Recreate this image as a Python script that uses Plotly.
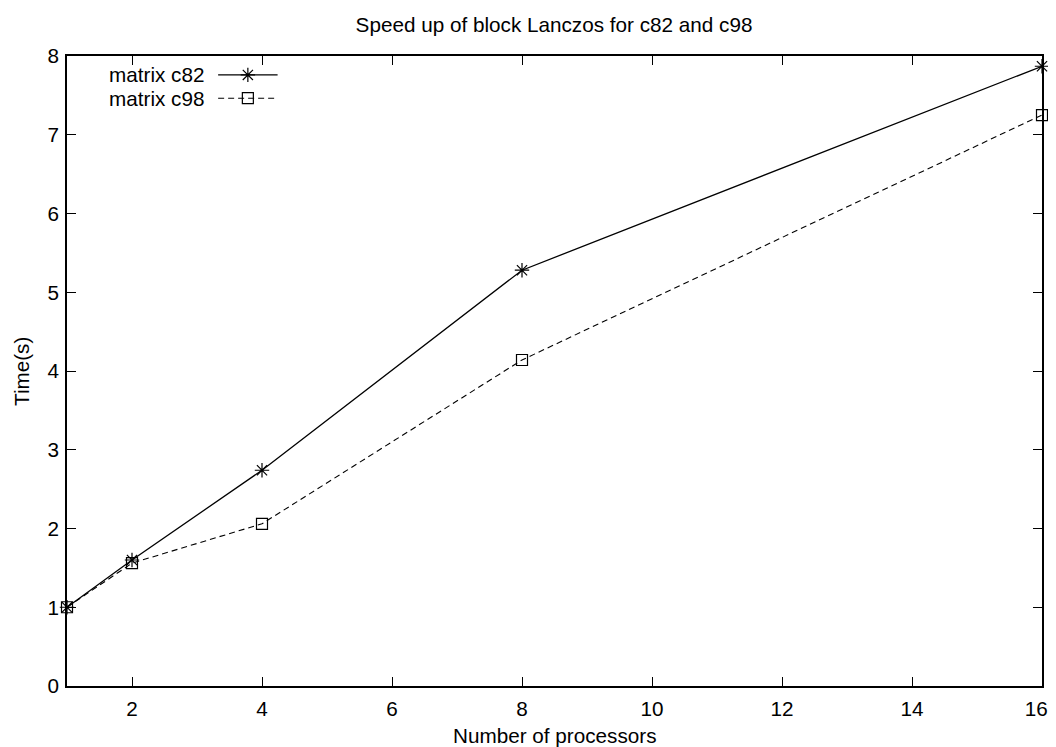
import plotly.graph_objects as go

processors = [1, 2, 4, 8, 16]
c82 = [1.0, 1.60, 2.74, 5.28, 7.87]
c98 = [1.0, 1.56, 2.06, 4.14, 7.25]
series_names = ["matrix c82", "matrix c98"]
x_ticks = [2, 4, 6, 8, 10, 12, 14, 16]
x_labels = ["2", "4", "6", "8", "10", "12", "14", "16\u00a0\u00a0"]
y_ticks = [0, 1, 2, 3, 4, 5, 6, 7, 8]

FONT = "Liberation Sans, Arial, sans-serif"
FS = 20.7

fig = go.Figure()
fig.add_trace(go.Scatter(
    x=processors, y=c82, mode="lines+markers", name=series_names[0],
    line=dict(color="black", width=1.3),
    marker=dict(symbol="asterisk-open", size=12, color="black", line=dict(width=1.2, color="black")),
    showlegend=False, cliponaxis=False))
fig.add_trace(go.Scatter(
    x=processors, y=c98, mode="lines+markers", name=series_names[1],
    line=dict(color="black", width=1.1, dash="6px,4px"),
    marker=dict(symbol="square-open", size=11, color="black", line=dict(width=1.2, color="#333")),
    showlegend=False, cliponaxis=False))

# manual gnuplot-style legend on an overlay axis in [0,1]
leg_y = [0.970, 0.933]
styles = [
    (dict(color="black", width=1.3), "asterisk-open", 12),
    (dict(color="black", width=1.1, dash="6px,4px"), "square-open", 11),
]
for name, yy, (ln, sym, sz) in zip(series_names, leg_y, styles):
    fig.add_trace(go.Scatter(x=[0.155, 0.216], y=[yy, yy], mode="lines", line=ln,
                             xaxis="x2", yaxis="y2", showlegend=False, hoverinfo="skip"))
    fig.add_trace(go.Scatter(x=[0.1855], y=[yy], mode="markers",
                             marker=dict(symbol=sym, size=sz, color="black",
                                         line=dict(width=1.2, color="black")),
                             xaxis="x2", yaxis="y2", showlegend=False, hoverinfo="skip"))
    fig.add_annotation(text=name, xref="paper", yref="paper", x=0.1425, y=yy,
                       xanchor="right", yanchor="middle", showarrow=False,
                       font=dict(family=FONT, size=FS, color="black"))

# axis titles as annotations (gnuplot placement)
fig.add_annotation(text="Number of processors", xref="paper", yref="paper",
                   x=0.5, y=-0.079, xanchor="center", yanchor="middle", showarrow=False,
                   font=dict(family=FONT, size=FS, color="black"))
fig.add_annotation(text="Time(s)", xref="paper", yref="paper", textangle=-90,
                   x=-0.0472, y=0.5, xanchor="center", yanchor="middle", showarrow=False,
                   font=dict(family=FONT, size=FS, color="black"))

axis_common = dict(showgrid=False, zeroline=False, showline=True, linecolor="black",
                   linewidth=1.6, mirror="ticks", ticks="inside", ticklen=9,
                   tickcolor="black", tickwidth=1.3, automargin=False,
                   ticklabeloverflow="allow",
                   tickfont=dict(family=FONT, size=FS, color="black"))

W, H = 1048, 739
fig.update_layout(
    width=W, height=H,
    margin=dict(l=59, r=14, t=48, b=61),
    paper_bgcolor="white", plot_bgcolor="white",
    title=dict(text="Speed up of block Lanczos for c82 and c98", xref="container",
               x=546 / W, xanchor="center",
               y=1 - 17 / H, yanchor="middle",
               font=dict(family=FONT, size=FS, color="black")),
    xaxis=dict(range=[1, 16], tickvals=x_ticks, ticktext=x_labels,
               ticklabelstandoff=3, **axis_common),
    yaxis=dict(range=[0, 8], tickvals=y_ticks, ticktext=[str(v) for v in y_ticks],
               ticklabelstandoff=2, **axis_common),
    xaxis2=dict(range=[0, 1], overlaying="x", visible=False, fixedrange=True),
    yaxis2=dict(range=[0, 1], overlaying="y", visible=False, fixedrange=True),
)

fig.write_html("out.html")
